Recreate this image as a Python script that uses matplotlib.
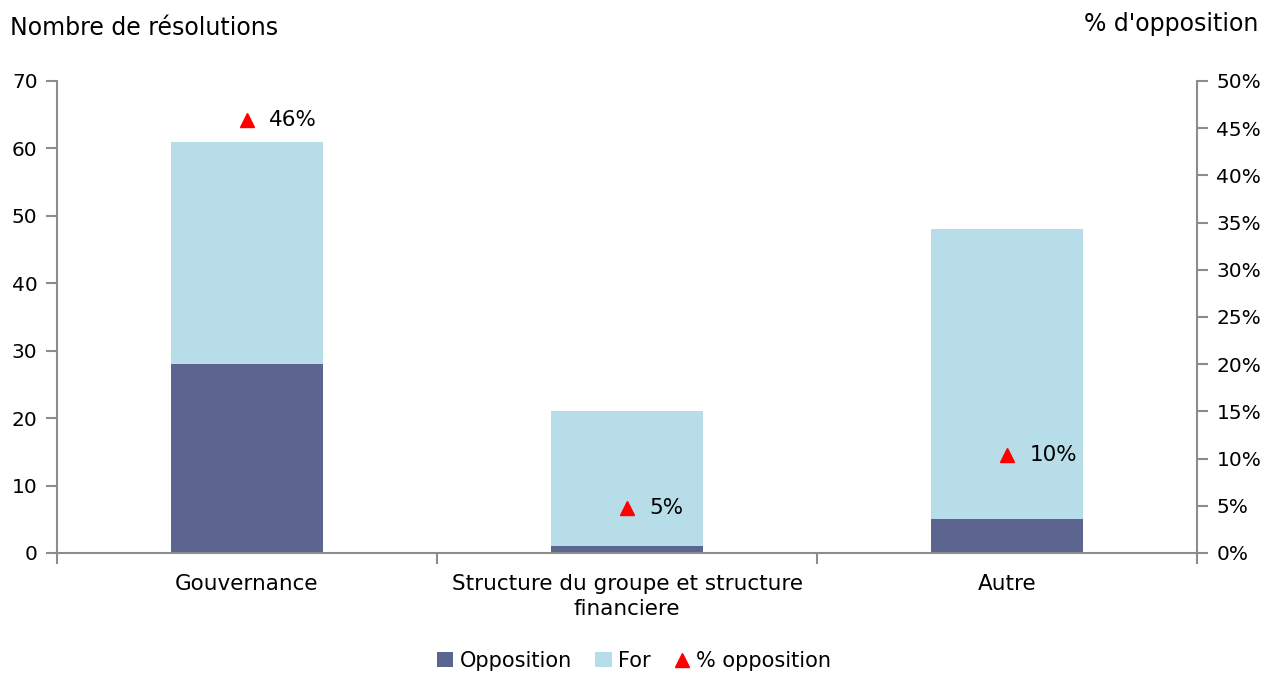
import numpy as np
import matplotlib.pyplot as plt

categories = ['Gouvernance', 'Structure du groupe et structure\nfinanciere', 'Autre']
opposition = [28, 1, 5]
pour = [33, 20, 43]
pct_opposition = [0.459, 0.048, 0.104]
pct_labels = ['46%', '5%', '10%']

c_opp = '#5B6590'
c_for = '#B7DDE8'
gris = '#8C8C8C'

plt.rcParams['font.family'] = 'DejaVu Sans'
fig = plt.figure(figsize=(12.72, 6.73), dpi=100)
ax = fig.add_axes([57/1272, 1-553/673, 1140/1272, 472/673])
ax2 = ax.twinx()

x = np.arange(len(categories))
b1 = ax.bar(x, opposition, width=0.4, color=c_opp, label='Opposition', zorder=2)
b2 = ax.bar(x, pour, width=0.4, bottom=opposition, color=c_for, label='For', zorder=2)
ax.set_xlim(-0.5, 2.5)
ax.set_ylim(0, 70)
ax.set_yticks(range(0, 71, 10))

tri, = ax2.plot(x, pct_opposition, linestyle='none', marker='^', color='red', markersize=10, label='% opposition')
for xi, yi, lab in zip(x, pct_opposition, pct_labels):
    ax2.annotate(lab, (xi, yi), xytext=(16, 0), textcoords='offset points', va='center', ha='left', fontsize=15.5)
ax2.set_ylim(0, 0.5)
ax2.set_yticks(np.arange(0, 0.51, 0.05))
ax2.set_yticklabels([f'{int(round(v*100))}%' for v in np.arange(0, 0.51, 0.05)])

ax.set_xticks(x)
ax.set_xticklabels(categories, fontsize=15.5, linespacing=1.3)
ax.set_xticks([-0.5, 0.5, 1.5, 2.5], minor=True)
ax.tick_params(axis='x', which='major', length=0, pad=15)
ax.tick_params(axis='x', which='minor', length=8, width=1.5, color=gris, direction='out')
ax.tick_params(axis='y', length=8, width=1.5, color=gris, labelsize=14.5, pad=6)
ax2.tick_params(axis='y', length=8, width=1.5, color=gris, labelsize=14.5, pad=6)

for a in (ax, ax2):
    a.spines['top'].set_visible(False)
    for s in ('left', 'right', 'bottom'):
        a.spines[s].set_color(gris)
        a.spines[s].set_linewidth(1.5)
ax.spines['right'].set_visible(False)
ax2.spines['left'].set_visible(False)
ax2.spines['bottom'].set_visible(False)

fig.text(10/1272, 1-28/673, 'Nombre de résolutions', fontsize=17, va='center', ha='left')
fig.text(1258/1272, 1-24/673, "% d'opposition", fontsize=17, va='center', ha='right')

fig.legend(handles=[b1, b2, tri], labels=['Opposition', 'For', '% opposition'],
           loc='center', bbox_to_anchor=(634/1272, 1-661/673), ncol=3, frameon=False,
           fontsize=15, handlelength=0.8, handletextpad=0.3, columnspacing=1.1)

fig.savefig('out.png', dpi=100)
